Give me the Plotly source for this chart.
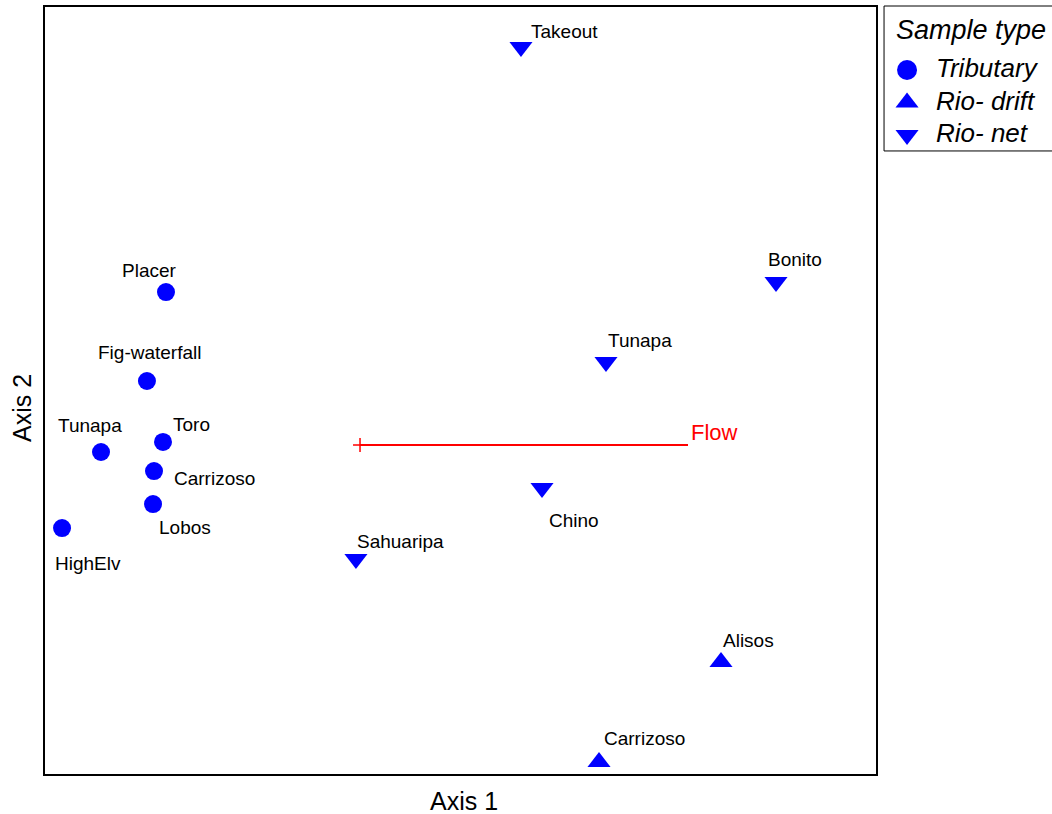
import plotly.graph_objects as go

# Ordination scores (arbitrary axis units)
trib_names = ["Placer", "Fig-waterfall", "Toro", "Tunapa", "Carrizoso", "Lobos", "HighElv"]
trib_x = [14.56, 12.27, 14.20, 6.74, 13.12, 13.00, 2.05]
trib_y = [62.84, 51.24, 43.29, 41.98, 39.50, 35.20, 32.07]

drift_names = ["Alisos", "Carrizoso"]
drift_x = [81.35, 66.67]
drift_y = [14.60, 1.56]

net_names = ["Takeout", "Bonito", "Tunapa", "Chino", "Sahuaripa"]
net_x = [57.28, 87.97, 67.51, 59.81, 37.42]
net_y = [94.78, 64.15, 53.72, 37.29, 28.03]

flow_x = [37.91, 77.38]
flow_y = [42.89, 42.89]

legend_title = "Sample type"
legend_labels = ["Tributary", "Rio- drift", "Rio- net"]
legend_symbols = ["circle", "triangle-up", "triangle-down"]

# label offsets in pixels (dx right, dy up)
trib_off = [(-16, 22), (3, 28), (28, 17), (-11, 27), (60, -7), (32, -23), (26, -35)]
drift_off = [(27, 22), (45, 24)]
net_off = [(44, 16), (19, 22), (34, 21), (32, -33), (45, 18)]

BLUE = "#0000FF"
FONT = "Liberation Sans, Arial, sans-serif"
TRI = 20

fig = go.Figure()
fig.add_trace(go.Scatter(x=trib_x, y=trib_y, mode="markers", showlegend=False,
                         marker=dict(symbol="circle", size=18, color=BLUE, opacity=1)))
fig.add_trace(go.Scatter(x=drift_x, y=drift_y, mode="markers", showlegend=False,
                         marker=dict(symbol="triangle-up", size=TRI, color=BLUE, opacity=1)))
fig.add_trace(go.Scatter(x=net_x, y=net_y, mode="markers", showlegend=False,
                         marker=dict(symbol="triangle-down", size=TRI, color=BLUE, opacity=1)))
fig.add_trace(go.Scatter(x=flow_x, y=flow_y, mode="lines", showlegend=False,
                         line=dict(color="#FF0000", width=2)))
fig.add_trace(go.Scatter(x=flow_x[:1], y=flow_y[:1], mode="markers", showlegend=False,
                         marker=dict(symbol="cross-thin", size=10, color="#FF0000",
                                     line=dict(color="#FF0000", width=1.5))))

# manual legend on its own small axes (item index on y)
leg_idx = list(range(len(legend_labels)))
for i, sym in zip(leg_idx, legend_symbols):
    fig.add_trace(go.Scatter(x=[0.137], y=[i], mode="markers",
                             xaxis="x2", yaxis="y2", showlegend=False, hoverinfo="skip",
                             marker=dict(symbol=sym, size=20 if sym == "circle" else TRI,
                                         color=BLUE, opacity=1)))

annots = []
for names, xs, ys, offs in [(trib_names, trib_x, trib_y, trib_off),
                            (drift_names, drift_x, drift_y, drift_off),
                            (net_names, net_x, net_y, net_off)]:
    for n, x, y, (dx, dy) in zip(names, xs, ys, offs):
        annots.append(dict(x=x, y=y, text=n, showarrow=False, xshift=dx, yshift=dy,
                           font=dict(family=FONT, size=19, color="black")))
annots.append(dict(x=flow_x[1], y=flow_y[1], text="Flow", showarrow=False,
                   xshift=26, yshift=13, font=dict(family=FONT, size=22, color="#FF0000")))
annots.append(dict(xref="paper", yref="paper", x=0.4156, y=-0.0352, xanchor="center",
                   yanchor="middle", text="Axis 1", showarrow=False,
                   font=dict(family=FONT, size=25, color="black")))
annots.append(dict(xref="paper", yref="paper", x=-0.0228, y=0.4772, xanchor="center",
                   yanchor="middle", text="Axis 2", showarrow=False, textangle=-90,
                   font=dict(family=FONT, size=25, color="black")))
annots.append(dict(xref="x2", yref="y2", x=0.062, y=-1.23, xanchor="left", yanchor="middle",
                   text=legend_title, showarrow=False,
                   font=dict(family=FONT, size=27, style="italic", color="black")))
for i, lab in zip(leg_idx, legend_labels):
    annots.append(dict(xref="x2", yref="y2", x=0.298, y=i - 0.06, xanchor="left", yanchor="middle",
                       text=lab, showarrow=False,
                       font=dict(family=FONT, size=26, style="italic", color="black")))

shapes = [dict(type="rect", xref="paper", yref="paper", x0=0.8332, x1=1.05,
               y0=0.8123, y1=1.0013, line=dict(color="black", width=1),
               fillcolor="rgba(0,0,0,0)", layer="above")]

axis_common = dict(showgrid=False, zeroline=False, showticklabels=False, ticks="",
                   showline=True, mirror=True, linecolor="black", linewidth=2)
hidden = dict(showgrid=False, zeroline=False, showticklabels=False, ticks="",
              showline=False, visible=False)
fig.update_layout(
    width=1052, height=814,
    margin=dict(l=45, r=0, t=7, b=40),
    paper_bgcolor="white", plot_bgcolor="white",
    xaxis=dict(range=[0, 100], domain=[0, 0.8252], **axis_common),
    yaxis=dict(range=[0, 100], domain=[0, 1], **axis_common),
    xaxis2=dict(range=[0, 1], domain=[0.8332, 1], anchor="y2", **hidden),
    yaxis2=dict(range=[2.492, -1.938], domain=[0.8123, 1.0], anchor="x2", **hidden),
    annotations=annots,
    shapes=shapes,
    showlegend=False,
)
fig.write_html("out.html")
